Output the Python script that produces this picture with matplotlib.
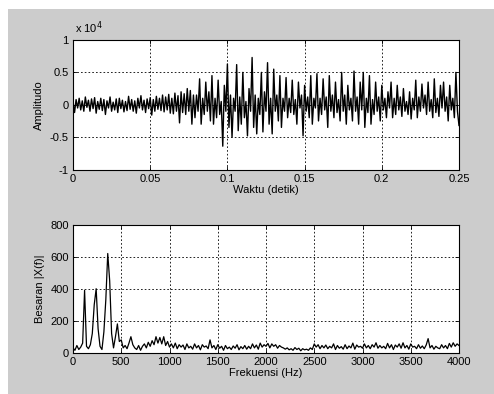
import numpy as np
import matplotlib
matplotlib.use('Agg')
import matplotlib.pyplot as plt
from matplotlib.patches import Rectangle

# sinyal waktu (satuan x 10^4), satu nilai per 1 ms, 0 .. 0.25 s
amp_tenang = [
    0.05, -0.12, 0.08, -0.05, 0.10, -0.08, 0.06, -0.10, 0.12, -0.04,
    0.07, -0.10, 0.09, -0.06, 0.11, -0.13, 0.05, -0.07, 0.10, -0.09,
    0.08, -0.15, 0.06, -0.05, 0.12, -0.10, 0.04, -0.08, 0.09, -0.12,
    0.10, -0.06, 0.07, -0.11, 0.05, -0.09, 0.13, -0.07, 0.08, -0.10,
    0.06, -0.13, 0.10, -0.05, 0.14, -0.08, 0.07, -0.12, 0.09, -0.06,
    0.11, -0.16, 0.08, -0.10, 0.13, -0.07, 0.10, -0.09, 0.15, -0.11,
    0.12, -0.08, 0.16, -0.13, 0.10, -0.14, 0.18, -0.10, 0.14, -0.28,
    0.20, -0.12, 0.17, -0.15, 0.25, -0.10, 0.22, -0.30, 0.15, -0.20,
]
amp_keras = [
    0.15, -0.10, 0.40, -0.30, 0.10, -0.15, 0.35, -0.10, 0.20, -0.25,
    0.45, -0.30, 0.10, -0.20, 0.38, -0.15, 0.05, -0.64, 0.30, -0.10,
    0.63, -0.35, 0.15, -0.50, 0.10, -0.10, 0.62, -0.40, 0.12, -0.30,
    0.50, -0.20, 0.05, -0.48, 0.25, -0.10, 0.73, -0.35, 0.15, -0.45,
    0.10, -0.15, 0.50, -0.42, 0.20, -0.10, 0.65, -0.30, 0.10, -0.45,
    0.55, -0.10, 0.15, -0.25, 0.45, -0.35, 0.10, -0.10, 0.42, -0.20,
    0.10, -0.12, 0.38, -0.15, 0.08, -0.30, 0.35, -0.05, 0.15, -0.48,
    0.30, -0.10, 0.12, -0.20, 0.45, -0.30, 0.10, -0.05, 0.48, -0.25,
    0.10, -0.15, 0.40, -0.08, 0.12, -0.35, 0.45, -0.10, 0.15, -0.20,
    0.35, -0.12, 0.08, -0.25, 0.50, -0.10, 0.15, -0.30, 0.30, -0.08,
    0.10, -0.25, 0.52, -0.10, 0.12, -0.30, 0.35, -0.08, 0.50, -0.35,
    0.10, -0.12, 0.45, -0.30, 0.08, -0.15, 0.35, -0.10, 0.12, -0.25,
]
amp_akhir = [
    0.30, -0.08, 0.10, -0.20, 0.20, -0.05, 0.35, -0.20, 0.10, -0.15,
    0.30, -0.08, 0.12, -0.18, 0.25, -0.10, 0.05, -0.15, 0.20, -0.22,
    0.10, -0.08, 0.38, -0.20, 0.12, -0.10, 0.32, -0.05, 0.15, -0.15,
    0.35, -0.10, 0.08, -0.20, 0.40, -0.12, 0.10, -0.18, 0.30, -0.05,
    0.35, -0.10, 0.12, -0.25, 0.30, -0.08, 0.10, -0.20, 0.50, -0.10,
    -0.32,
]

# spektrum |X(f)|, satu nilai per 20 Hz, 0 .. 4000 Hz
mag_rendah = [
    30, 15, 45, 20, 35, 60, 390, 40, 25, 50,
    120, 300, 400, 150, 40, 20, 130, 330, 620, 450,
    120, 30, 100, 180, 70, 80, 30, 45, 25, 60,
    100, 50, 30, 20, 45, 15, 40, 55, 30, 65,
    40, 75, 50, 100, 60, 95, 55, 100, 45, 70,
    35,
]
mag_tinggi = [
    55, 30, 60, 25, 50, 35, 48, 20, 55, 30,
    40, 22, 55, 30, 45, 18, 50, 35, 42, 25,
    80, 30, 45, 20, 50, 28, 40, 15, 45, 25,
    35, 20, 42, 28, 50, 18, 38, 25, 45, 22,
    40, 25, 55, 30, 48, 22, 60, 35, 50, 40,
    58, 30, 55, 40, 50, 28, 45, 35, 30, 22,
    30, 18, 25, 15, 32, 20, 28, 12, 25, 18,
    22, 15, 30, 20, 55, 35, 50, 25, 45, 30,
    48, 25, 40, 30, 55, 20, 45, 28, 38, 22,
    50, 25, 42, 30, 60, 22, 48, 35, 40, 28,
    55, 30, 45, 25, 50, 35, 62, 28, 45, 30,
    40, 25, 58, 30, 50, 20, 48, 35, 55, 28,
    62, 30, 45, 22, 55, 35, 40, 25, 50, 28,
    42, 25, 48, 88, 30, 45, 22, 40, 30, 25,
    50, 30, 45, 25, 58, 35, 62, 40, 55, 45,
]

amp = np.array(amp_tenang + amp_keras + amp_akhir)
t = np.linspace(0, 0.25, len(amp))
mag = np.array(mag_rendah + mag_tinggi)
f = np.linspace(0, 4000, len(mag))

plt.rcParams['font.family'] = ['Liberation Sans', 'DejaVu Sans']
plt.rcParams['font.size'] = 8

W, H = 494, 394
fig = plt.figure(figsize=(W / 100, H / 100), dpi=100, facecolor='white')
fig.patches.append(Rectangle((8 / W, 0), 1 - 8 / W, 1 - 9 / H,
                             transform=fig.transFigure, facecolor='#cccccc',
                             edgecolor='none', zorder=-10))

ax1 = fig.add_axes([73 / W, 1 - 169.5 / H, 386 / W, 129.5 / H])
ax2 = fig.add_axes([73 / W, 1 - 352.7 / H, 386 / W, 128 / H])

ax1.plot(t, amp, color='black', lw=1.0)
ax1.set_xlim(0, 0.25)
ax1.set_ylim(-1, 1)
ax1.set_xticks([0, 0.05, 0.1, 0.15, 0.2, 0.25])
ax1.set_xticklabels(['0', '0.05', '0.1', '0.15', '0.2', '0.25'])
ax1.set_yticks([-1, -0.5, 0, 0.5, 1])
ax1.set_yticklabels(['-1', '-0.5', '0', '0.5', '1'])
ax1.set_xlabel('Waktu (detik)', labelpad=1)
ax1.set_ylabel('Amplitudo', labelpad=4)
ax1.text(0.005, 1.03, r'x 10$^4$', transform=ax1.transAxes, fontsize=8,
         ha='left', va='bottom')

ax2.plot(f, mag, color='black', lw=0.9)
ax2.set_xlim(0, 4000)
ax2.set_ylim(0, 800)
ax2.set_xticks(np.arange(0, 4001, 500))
ax2.set_yticks([0, 200, 400, 600, 800])
ax2.set_xlabel('Frekuensi (Hz)', labelpad=1)
ax2.set_ylabel('Besaran |X(f)|', labelpad=4)

for ax in (ax1, ax2):
    ax.set_facecolor('white')
    ax.grid(True, color='black', linestyle=(0, (2, 2.5)), linewidth=0.6)
    ax.tick_params(direction='in', length=3, width=0.6, pad=3,
                   top=True, right=True, labelsize=8)
    for s in ax.spines.values():
        s.set_linewidth(0.8)

fig.savefig('out.png', dpi=100, facecolor=fig.get_facecolor())
